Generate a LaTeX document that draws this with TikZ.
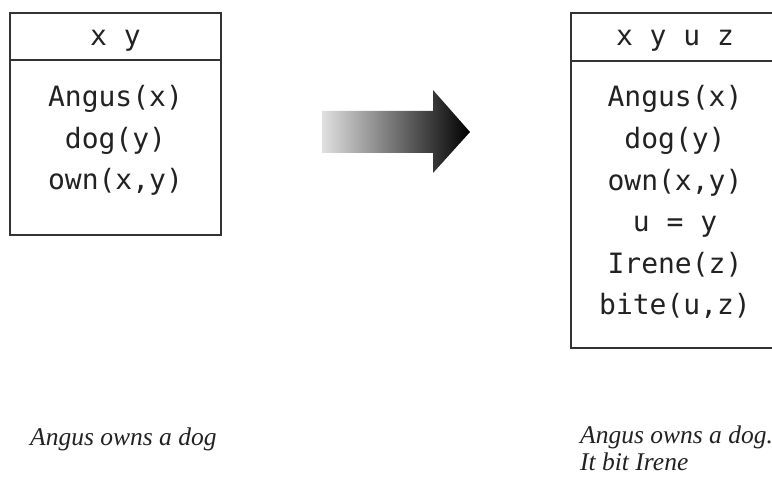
\documentclass[tikz,border=0pt]{standalone}
\usepackage{fontspec}
\setmainfont{Liberation Serif}
\setmonofont{DejaVu Sans Mono}
\definecolor{ink}{HTML}{222222}
\definecolor{frame}{HTML}{333333}
\begin{document}
\begin{tikzpicture}[x=1pt,y=-1pt,
  drsbox/.style={draw=frame,line width=1.6pt,inner sep=0pt},
  cond/.style={font=\ttfamily\fontsize{28}{30}\selectfont,text=ink,anchor=base,inner sep=0pt},
  caption/.style={font=\itshape\fontsize{25.5}{27}\selectfont,text=ink,anchor=base west,inner sep=0pt}]
\useasboundingbox (0,0) rectangle (772,481);
\clip (0,0) rectangle (772,481);
% left box
\draw[drsbox] (10,13) rectangle (221,235);
\draw[drsbox] (10,60) -- (221,60);
\node[cond] (lh) at (115.5,46) {x y};
\node[cond] (l1) at (115.5,107) {Angus(x)};
\node[cond] (l2) at (115.5,149) {dog(y)};
\node[cond] (l3) at (115.5,190) {own(x,y)};
% right box
\draw[drsbox] (571,13) rectangle (779,348);
\draw[drsbox] (571,61) -- (779,61);
\node[cond] (rh) at (675,46) {x y u z};
\node[cond] (r1) at (675,107) {Angus(x)};
\node[cond] (r2) at (675,148.6) {dog(y)};
\node[cond] (r3) at (675,190.2) {own(x,y)};
\node[cond] (r4) at (675,231.8) {u = y};
\node[cond] (r5) at (675,273.4) {Irene(z)};
\node[cond] (r6) at (675,315) {bite(u,z)};
% arrow
\shade[left color=black!12,right color=black]
  (322,111) -- (433,111) -- (433,90) -- (470,132) -- (433,173) -- (433,153) -- (322,153) -- cycle;
% captions
\node[caption] (lc) at (30,445) {Angus owns a dog};
\node[caption] (rc1) at (580,443) {Angus owns a dog.};
\node[caption] (rc2) at (580,470) {It bit Irene};
\end{tikzpicture}
\end{document}
